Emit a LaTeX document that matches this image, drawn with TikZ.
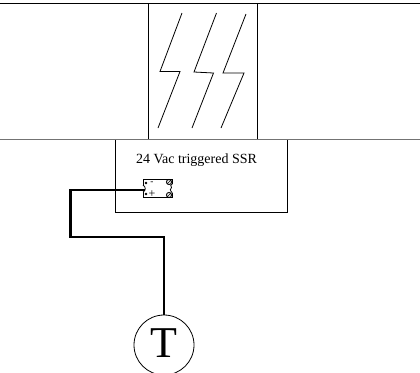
\documentclass[tikz,border=0pt]{standalone}
\usepackage{fontspec}
\setmainfont{Liberation Serif}
\tikzset{
 wall/.style={draw=black,line width=0.75pt},
 floorline/.style={draw=black!55,line width=1.2pt},
 bolt/.style={draw=black,line width=0.6pt,line join=miter},
 wire/.style={draw=black,line width=2pt,line join=miter},
 ssrbox/.style={draw=black,fill=white,line width=0.6pt,minimum width=21.75pt,minimum height=13.5pt,inner sep=0pt},
 termcirc/.style={draw=black,line width=0.6pt,circle,minimum size=45pt,inner sep=0pt},
 lug/.style={circle,draw=black,line width=0.7pt,inner sep=0pt,minimum size=3.8pt}
}
\begin{document}
\begin{tikzpicture}[x=0.75pt,y=-0.75pt]
\useasboundingbox (0,0) rectangle (420,372);
\clip (0,0) rectangle (420,372);
\fill[white] (0,0) rectangle (420,372);
\draw[wall] (0,3) -- (420,3);
\draw[wall] (148.5,3) -- (148.5,140);
\draw[wall] (257.5,3) -- (257.5,140);
\draw[bolt] (182,13) -- (160,71.5) -- (180,71.5) -- (158,128);
\draw[bolt] (216.5,13) -- (194,72) -- (213.5,73) -- (192,128);
\draw[bolt] (246,14) -- (223,73) -- (244,73) -- (221,128);
\draw[wall,line width=0.6pt] (115.5,140) -- (115.5,212) -- (287,212) -- (287,140);
\draw[floorline] (0,139.5) -- (420,139.5);
\node[font=\fontsize{10.5}{12}\selectfont,inner sep=0pt] (lbl) at (196.5,160.5) {24 Vac triggered SSR};
\node[ssrbox] (ssr) at (157.5,188.2) {};
\fill[white] (141.5,185) rectangle (144,192);
\draw[line width=0.6pt] (143,185) .. controls (146,186.5) and (146,191) .. (143,192);
\fill[white] (171,184) rectangle (173.5,193);
\draw[line width=0.6pt] (172.3,184) .. controls (168.5,185.5) and (173,187) .. (171,188.5) .. controls (169,190) and (172,192) .. (172.3,193);
\node[font=\fontsize{7}{7}\selectfont,inner sep=0pt] (minus) at (152,183) {-};
\node[font=\fontsize{9}{9}\selectfont,inner sep=0pt] (plus) at (152,194) {+};
\node[circle,fill=black,inner sep=0pt,minimum size=2.2pt] (t1) at (146,183) {};
\node[circle,fill=black,inner sep=0pt,minimum size=2.2pt] (t2) at (146,194) {};
\node[lug] (t3) at (169,182) {};
\node[lug] (t4) at (169,195) {};
\draw[line width=0.5pt] (t3.south west) -- (t3.north east);
\draw[line width=0.5pt] (t4.south west) -- (t4.north east);
\node[termcirc] (tc) at (164,345) {};
\node[font=\fontsize{33}{36}\selectfont,inner sep=0pt] (tlabel) at (164,343) {T};
\coordinate (w0) at (145,190);
\coordinate (w1) at (70.5,190);
\coordinate (w2) at (70.5,237);
\coordinate (w3) at (164,237);
\draw[wire] (w0) -- (w1) -- (w2) -- (w3) -- (tc.north);
\end{tikzpicture}
\end{document}
